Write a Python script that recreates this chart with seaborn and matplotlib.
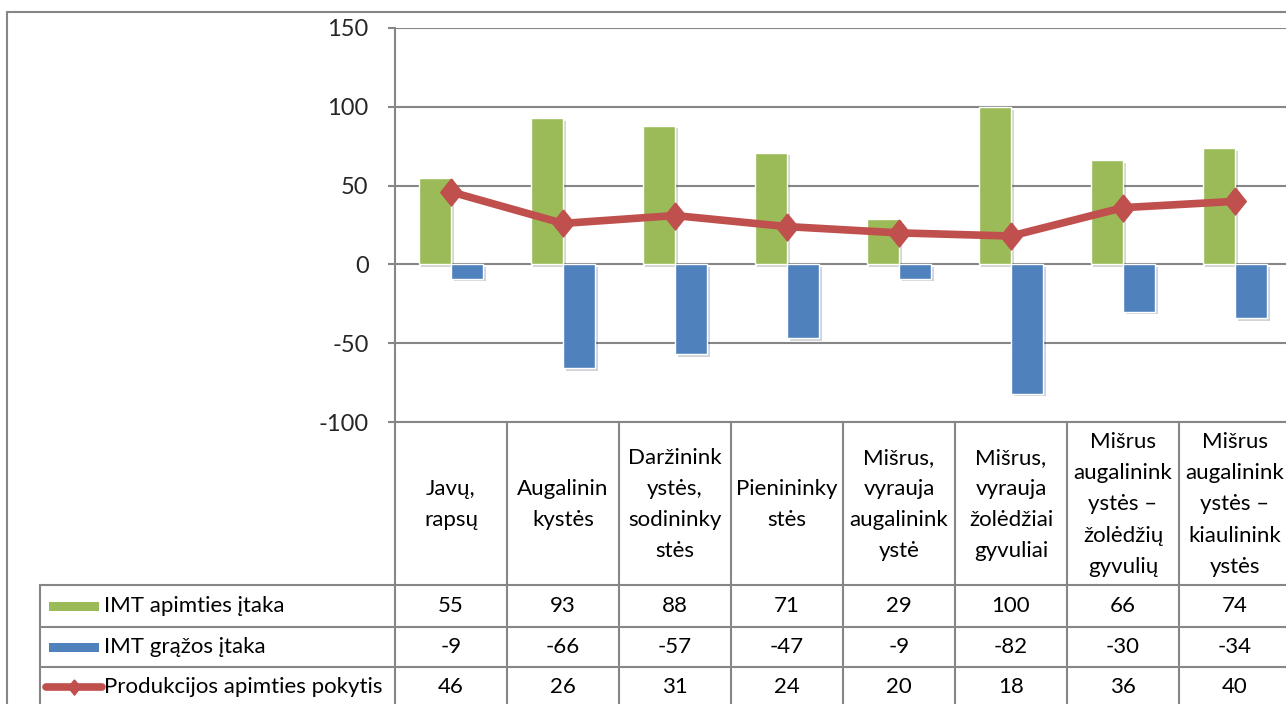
import numpy as np
import matplotlib
matplotlib.use("Agg")
import matplotlib.pyplot as plt
from matplotlib.lines import Line2D
from matplotlib.patches import Rectangle
import matplotlib.patheffects as pe
import seaborn as sns
import pandas as pd

# data
categories = ["Javų,\nrapsų", "Augalinin\nkystės", "Daržinink\nystės,\nsodininky\nstės",
              "Pienininky\nstės", "Mišrus,\nvyrauja\naugalinink\nystė",
              "Mišrus,\nvyrauja\nžolėdžiai\ngyvuliai",
              "Mišrus\naugalinink\nystės –\nžolėdžių\ngyvulių",
              "Mišrus\naugalinink\nystės –\nkiaulinink\nystės"]
series_names = ["IMT apimties įtaka", "IMT grąžos įtaka", "Produkcijos apimties pokytis"]
volume_effect = [55, 93, 88, 71, 29, 100, 66, 74]
price_effect = [-9, -66, -57, -47, -9, -82, -30, -34]
output_change = [46, 26, 31, 24, 20, 18, 36, 40]
yticks = [-100, -50, 0, 50, 100, 150]

GREEN, BLUE, RED, GRAY = "#9BBB59", "#4F81BD", "#C0504D", "#868686"

sns.set_style("white")
plt.rcParams["font.family"] = ["Lato", "DejaVu Sans"]
plt.rcParams["axes.unicode_minus"] = False

W, H = 1286, 704
fig = plt.figure(figsize=(W / 100, H / 100), dpi=100)


def fx(x):
    return x / W


def fy(y):
    return 1 - y / H


# plot area in pixel terms of the reference
x0, x1, ytop, ybot = 395, 1291, 28, 422
ax = fig.add_axes([fx(x0), fy(ybot), fx(x1 - x0), (ybot - ytop) / H])

n = len(categories)
df = pd.DataFrame({
    "cat": list(range(n)) * 2,
    "val": volume_effect + price_effect,
    "series": [series_names[0]] * n + [series_names[1]] * n,
})
sns.barplot(data=df, x="cat", y="val", hue="series", palette=[GREEN, BLUE],
            width=0.58, saturation=1, legend=False, ax=ax,
            edgecolor="white", linewidth=1, errorbar=None)
for p in ax.patches:
    p.set_path_effects([pe.SimplePatchShadow(offset=(2, -2), alpha=0.2), pe.Normal()])

diamond = [(0, 1), (0.8, 0), (0, -1), (-0.8, 0), (0, 1)]
ax.plot(np.arange(n), output_change, color=RED, lw=5.5, marker=diamond,
        ms=19.5, zorder=5, solid_joinstyle="miter")

ax.set_xlim(-0.5, n - 0.5)
ax.set_ylim(-100, 150)
ax.set_yticks(yticks)
ax.set_xticks([])
ax.set_xlabel("")
ax.set_ylabel("")
ax.set_axisbelow(True)
ax.yaxis.grid(True, color=GRAY, lw=1.5)
ax.tick_params(axis="y", length=5, width=1.5, color=GRAY, pad=14, labelsize=17,
               direction="out", left=True)
for s in ["top", "right"]:
    ax.spines[s].set_visible(False)
for s in ["left", "bottom"]:
    ax.spines[s].set_color(GRAY)
    ax.spines[s].set_linewidth(1.5)


def hline(y, xa, xb):
    fig.add_artist(Line2D([fx(xa), fx(xb)], [fy(y), fy(y)], color=GRAY, lw=1.5))


def vline(x, ya, yb):
    fig.add_artist(Line2D([fx(x), fx(x)], [fy(ya), fy(yb)], color=GRAY, lw=1.5))


# outer chart border
hline(12, 7, W)
vline(7, 12, H)

# data table grid
col_w = (x1 - x0) / n
rows = [585, 627, 667, 707]
for y in rows[:-1]:
    hline(y, 40, x1)
vline(40, 585, H)
for k in range(n + 1):
    vline(x0 + k * col_w, ybot, H)

# category header cells
for k, c in enumerate(categories):
    fig.text(fx(x0 + (k + 0.5) * col_w), fy((ybot + 585) / 2 + 1), c, ha="center",
             va="center", fontsize=16, linespacing=1.7, color="black")

# value rows
values = [volume_effect, price_effect, output_change]
for r, vals in enumerate(values):
    yc = (rows[r] + rows[r + 1]) / 2
    for k, v in enumerate(vals):
        fig.text(fx(x0 + (k + 0.5) * col_w), fy(yc), str(v), ha="center",
                 va="center", fontsize=16, color="black")
    fig.text(fx(104), fy(yc), series_names[r], ha="left", va="center",
             fontsize=16, color="black")

# legend keys
for r, col in enumerate([GREEN, BLUE]):
    yc = (rows[r] + rows[r + 1]) / 2
    fig.add_artist(Rectangle((fx(49), fy(yc + 4.5)), fx(50), 9 / H,
                             facecolor=col, edgecolor="none"))
yc = (rows[2] + rows[3]) / 2
fig.add_artist(Line2D([fx(46), fx(102)], [fy(yc), fy(yc)], color=RED, lw=5.5,
                      solid_capstyle="round"))
fig.add_artist(Line2D([fx(74)], [fy(yc)], color=RED, marker=diamond, ms=11, lw=0))

fig.savefig("out.png", dpi=100)
